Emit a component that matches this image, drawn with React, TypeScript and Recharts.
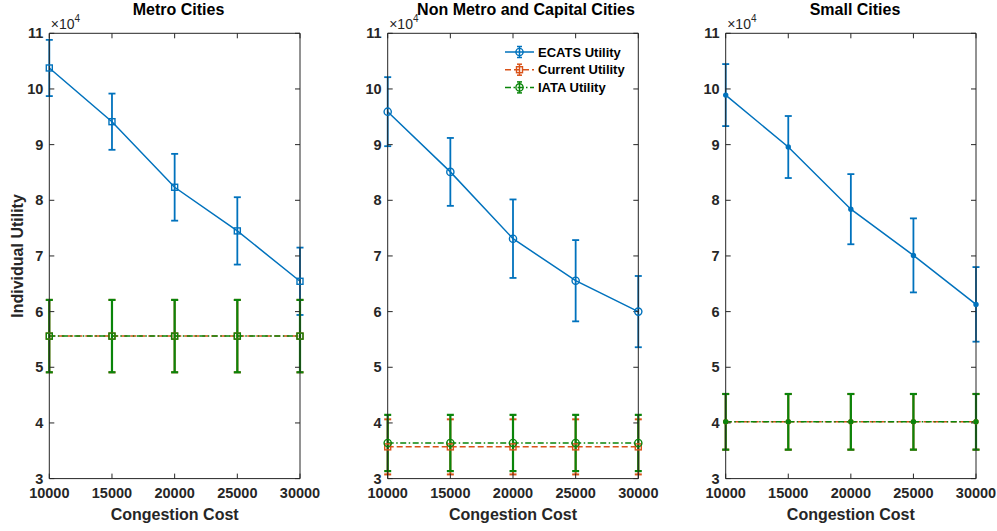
import { LineChart, Line, XAxis, YAxis, ErrorBar, Legend } from "recharts";

const congestionCost = [10000, 15000, 20000, 25000, 30000];
const utilityTicks = [30000, 40000, 50000, 60000, 70000, 80000, 90000, 100000, 110000];

// Metro Cities
const metroEcats = [103770, 94120, 82340, 74500, 65450];
const metroEcatsErr = [5050, 5050, 6000, 6050, 6050];
const metroCurrent = [55600, 55600, 55600, 55600, 55600];
const metroCurrentErr = [6500, 6500, 6500, 6500, 6500];
const metroIata = [55600, 55600, 55600, 55600, 55600];
const metroIataErr = [6500, 6500, 6500, 6500, 6500];

// Non Metro and Capital Cities
const nonMetroEcats = [95920, 85100, 73100, 65550, 60000];
const nonMetroEcatsErr = [6200, 6100, 7050, 7300, 6400];
const nonMetroCurrent = [35700, 35700, 35700, 35700, 35700];
const nonMetroCurrentErr = [4950, 4950, 4950, 4950, 4950];
const nonMetroIata = [36400, 36400, 36400, 36400, 36400];
const nonMetroIataErr = [5050, 5050, 5050, 5050, 5050];

// Small Cities
const smallEcats = [98900, 89570, 78400, 70100, 61300];
const smallEcatsErr = [5570, 5570, 6300, 6650, 6700];
const smallCurrent = [40200, 40200, 40200, 40200, 40200];
const smallCurrentErr = [5000, 5000, 5000, 5000, 5000];
const smallIata = [40200, 40200, 40200, 40200, 40200];
const smallIataErr = [5000, 5000, 5000, 5000, 5000];

const BLUE = "#0072BD";
const ORANGE = "#D95319";
const GREEN = "#0A850A";
const INK = "#262626";
const FONT = "'Liberation Sans', Arial, sans-serif";
const CURRENT_DASH = "6 3";
const IATA_DASH = "6 2.5 1.5 2.5";

const buildRows = (e: number[], eErr: number[], c: number[], cErr: number[], i: number[], iErr: number[]) =>
  congestionCost.map((cost, k) => ({
    cost,
    ecats: e[k],
    ecatsErr: eErr[k],
    current: c[k],
    currentErr: cErr[k],
    iata: i[k],
    iataErr: iErr[k],
  }));

const metroData = buildRows(metroEcats, metroEcatsErr, metroCurrent, metroCurrentErr, metroIata, metroIataErr);
const nonMetroData = buildRows(nonMetroEcats, nonMetroEcatsErr, nonMetroCurrent, nonMetroCurrentErr, nonMetroIata, nonMetroIataErr);
const smallData = buildRows(smallEcats, smallEcatsErr, smallCurrent, smallCurrentErr, smallIata, smallIataErr);

function drawMarker(shape: string, color: string, cx: number, cy: number, key?: any) {
  if (shape === "square")
    return <rect key={key} x={cx - 3} y={cy - 3} width={6} height={6} fill="none" stroke={color} strokeWidth={1.4} />;
  if (shape === "circle")
    return <circle key={key} cx={cx} cy={cy} r={3.6} fill="none" stroke={color} strokeWidth={1.4} />;
  return <circle key={key} cx={cx} cy={cy} r={2.7} fill={color} stroke="none" />;
}

const makeDot = (shape: string, color: string) => (props: any) => {
  const { cx, cy, index } = props;
  if (cx == null || cy == null) return <g key={index} />;
  return drawMarker(shape, color, cx, cy, index);
};

const legendEntries = [
  { name: "ECATS Utility", color: BLUE, dash: undefined, marker: "circle" },
  { name: "Current Utility", color: ORANGE, dash: CURRENT_DASH, marker: "square" },
  { name: "IATA Utility", color: GREEN, dash: IATA_DASH, marker: "circle" },
];

function LegendBox() {
  return (
    <svg width={135} height={56} style={{ display: "block", overflow: "visible" }}>
      {legendEntries.map((item, i) => {
        const y = 9 + i * 17.7;
        return (
          <g key={item.name}>
            <line x1={0} x2={29} y1={y} y2={y} stroke={item.color} strokeWidth={1.5} strokeDasharray={item.dash} />
            <line x1={14.5} x2={14.5} y1={y - 5.5} y2={y + 5.5} stroke={item.color} strokeWidth={1.5} />
            <line x1={12} x2={17} y1={y - 5.5} y2={y - 5.5} stroke={item.color} strokeWidth={1.5} />
            <line x1={12} x2={17} y1={y + 5.5} y2={y + 5.5} stroke={item.color} strokeWidth={1.5} />
            {drawMarker(item.marker, item.color, 14.5, y)}
            <text x={33} y={y} dominantBaseline="central" fontFamily={FONT} fontSize={13} fontWeight={700} fill="#000">
              {item.name}
            </text>
          </g>
        );
      })}
    </svg>
  );
}

type PanelProps = {
  left: number;
  width: number;
  axisWidth: number;
  rightGap: number;
  data: any[];
  markers: string[];
  title: string;
  titleX: number;
  showYLabel?: boolean;
  showLegend?: boolean;
};

const tickStyle = { fill: INK, fontSize: 14.5, fontWeight: 700, fontFamily: FONT };
const PLOT_TOP = 33.3;
const PLOT_BOTTOM = 478.6;
const BOX_AXIS = 4; // thickness reserved for the top / right box axes

function Panel({ left, width, axisWidth, rightGap, data, markers, title, titleX, showYLabel, showLegend }: PanelProps) {
  return (
    <>
      <div
        style={{
          position: "absolute",
          left: titleX - 150,
          width: 300,
          top: 1.5,
          textAlign: "center",
          fontFamily: FONT,
          fontSize: 16,
          lineHeight: "16px",
          fontWeight: 700,
          color: "#000",
        }}
      >
        {title}
      </div>
      <div
        style={{
          position: "absolute",
          left: left + axisWidth + 1.5,
          top: 17.4,
          fontFamily: FONT,
          fontSize: 14,
          lineHeight: "14px",
          color: INK,
          whiteSpace: "nowrap",
        }}
      >
        ×10<span style={{ fontSize: 10, position: "relative", top: -7 }}>4</span>
      </div>
      <div style={{ position: "absolute", left, top: 0 }}>
        <LineChart
          width={width}
          height={531}
          data={data}
          margin={{ top: PLOT_TOP - BOX_AXIS, right: rightGap - BOX_AXIS, bottom: 0, left: 0 }}
        >
          <XAxis
            dataKey="cost"
            type="number"
            domain={[10000, 30000]}
            ticks={congestionCost}
            height={531 - PLOT_BOTTOM}
            tickSize={-5}
            tickMargin={14}
            tick={tickStyle}
            axisLine={{ stroke: INK }}
            tickLine={{ stroke: INK }}
            label={{
              content: (p: any) => {
                const vb = p.viewBox || { x: 0, y: 0, width: 0, height: 0 };
                return (
                  <text
                    x={vb.x + vb.width / 2}
                    y={vb.y + vb.height - 11}
                    textAnchor="middle"
                    fontFamily={FONT}
                    fontSize={16}
                    fontWeight={700}
                    fill={INK}
                  >
                    Congestion Cost
                  </text>
                );
              },
            }}
          />
          <XAxis
            xAxisId="top"
            dataKey="cost"
            orientation="top"
            type="number"
            domain={[10000, 30000]}
            ticks={congestionCost}
            height={BOX_AXIS}
            tickSize={-5}
            tickFormatter={() => ""}
            axisLine={{ stroke: INK }}
            tickLine={{ stroke: INK }}
          />
          <YAxis
            type="number"
            domain={[30000, 110000]}
            ticks={utilityTicks}
            width={axisWidth}
            tickSize={-5}
            tickMargin={11}
            tick={tickStyle}
            tickFormatter={(v: number) => String(v / 10000)}
            axisLine={{ stroke: INK }}
            tickLine={{ stroke: INK }}
            label={
              showYLabel
                ? {
                    content: (p: any) => {
                      const vb = p.viewBox || { x: 0, y: 0, width: 0, height: 0 };
                      const cy = vb.y + vb.height / 2;
                      return (
                        <text
                          x={18}
                          y={cy}
                          transform={`rotate(-90 18 ${cy})`}
                          textAnchor="middle"
                          dominantBaseline="central"
                          fontFamily={FONT}
                          fontSize={16}
                          fontWeight={700}
                          fill={INK}
                        >
                          Individual Utility
                        </text>
                      );
                    },
                  }
                : undefined
            }
          />
          <YAxis
            yAxisId="right"
            orientation="right"
            type="number"
            domain={[30000, 110000]}
            ticks={utilityTicks}
            width={BOX_AXIS}
            tickSize={-5}
            tickFormatter={() => ""}
            axisLine={{ stroke: INK }}
            tickLine={{ stroke: INK }}
          />
          <Line
            dataKey="ecats"
            name="ECATS Utility"
            stroke={BLUE}
            strokeWidth={1.5}
            dot={makeDot(markers[0], BLUE)}
            activeDot={false}
            isAnimationActive={false}
          >
            <ErrorBar dataKey="ecatsErr" direction="y" width={3.5} stroke={BLUE} strokeWidth={1.8} />
          </Line>
          <Line
            dataKey="current"
            name="Current Utility"
            stroke={ORANGE}
            strokeWidth={1.5}
            strokeDasharray={CURRENT_DASH}
            dot={makeDot(markers[1], ORANGE)}
            activeDot={false}
            isAnimationActive={false}
          >
            <ErrorBar dataKey="currentErr" direction="y" width={3.5} stroke={ORANGE} strokeWidth={2} />
          </Line>
          {/* IATA drawn on the top/right axes (same domains) so the box axes are rendered */}
          <Line
            dataKey="iata"
            name="IATA Utility"
            xAxisId="top"
            yAxisId="right"
            stroke={GREEN}
            strokeWidth={1.5}
            strokeDasharray={IATA_DASH}
            dot={makeDot(markers[2], GREEN)}
            activeDot={false}
            isAnimationActive={false}
          >
            <ErrorBar dataKey="iataErr" direction="y" width={3.5} stroke={GREEN} strokeWidth={2.2} />
          </Line>
          {showLegend && (
            <Legend
              layout="vertical"
              align="center"
              verticalAlign="middle"
              content={() => <LegendBox />}
              wrapperStyle={{ left: 165, top: 42.7, width: 135, height: 56 }}
            />
          )}
        </LineChart>
      </div>
    </>
  );
}

export default function App() {
  return (
    <div style={{ position: "absolute", left: 0, top: 0, width: 997, height: 531, background: "#fff" }}>
      <Panel
        left={0}
        width={330}
        axisWidth={49.3}
        rightGap={30}
        data={metroData}
        markers={["square", "square", "square"]}
        title="Metro Cities"
        titleX={178.5}
        showYLabel
      />
      <Panel
        left={340}
        width={330}
        axisWidth={47.7}
        rightGap={31.7}
        data={nonMetroData}
        markers={["circle", "square", "circle"]}
        title="Non Metro and Capital Cities"
        titleX={526}
        showLegend
      />
      <Panel
        left={670}
        width={327}
        axisWidth={55.7}
        rightGap={21}
        data={smallData}
        markers={["dot", "dot", "dot"]}
        title="Small Cities"
        titleX={855}
      />
    </div>
  );
}
